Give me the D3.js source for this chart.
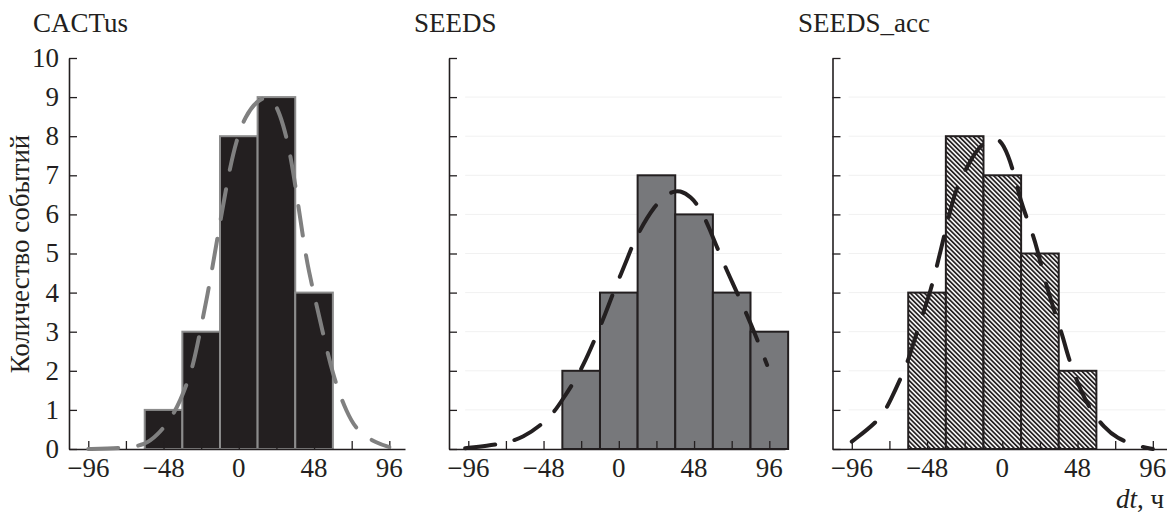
<!DOCTYPE html>
<html>
<head>
<meta charset="utf-8">
<script src="https://cdn.jsdelivr.net/npm/d3@7"></script>
<style>
  body { margin: 0; background: #fff; }
</style>
</head>
<body>
<div id="chart"></div>
<script>
// histogram bins (left edge of each 24 h bin) and counts
const binWidth = 24;
const cactusBins = [-60, -36, -12, 12, 36];
const cactusCounts = [1, 3, 8, 9, 4];
const seedsBins = [-36, -12, 12, 36, 60, 84];
const seedsCounts = [2, 4, 7, 6, 4, 3];
const accBins = [-60, -36, -12, 12, 36];
const accCounts = [4, 8, 7, 5, 2];

// fitted curves as [dt, count]
const cactusCurve = [[-96, 0], [-84, 0.01], [-72, 0.03], [-60, 0.1], [-52, 0.35], [-44, 0.74], [-37.5, 1.2],
  [-30, 2.0], [-26.7, 2.6], [-19.6, 4.0], [-14, 5.3], [-6.8, 7.0], [-1.2, 7.95], [4, 8.5], [11.6, 8.92],
  [19.9, 9.05], [26.2, 8.62], [32.6, 7.65], [37.7, 6.3], [41, 5.4], [44.2, 4.6], [51.8, 3.3], [60.1, 1.84],
  [68.9, 0.92], [76, 0.43], [88, 0.15], [96, 0.05]];
const seedsCurve = [[-98, 0.02], [-84, 0.08], [-71.5, 0.16], [-60.9, 0.3], [-50, 0.6], [-41.7, 0.91], [-35.3, 1.3],
  [-28, 1.75], [-22.6, 2.15], [-17.2, 2.62], [-7.6, 3.55], [-3.4, 4.02], [6.2, 4.94], [10.4, 5.39], [23.2, 6.27],
  [32.8, 6.58], [39.2, 6.62], [46, 6.45], [51.9, 6.16], [57.3, 5.69], [66.8, 4.75], [72.2, 4.28], [81.8, 3.43],
  [87.1, 2.92], [94.6, 2.15]];
const accCurve = [[-96, 0.19], [-78, 0.74], [-71.6, 1.21], [-60.9, 2.15], [-57.7, 2.58], [-50.3, 3.51], [-46.1, 3.98],
  [-39.7, 5.0], [-31.2, 6.45], [-26.9, 6.88], [-20, 7.4], [-14.2, 7.77], [-4.6, 7.99], [0.7, 7.82], [7.1, 7.14],
  [11.3, 6.37], [17.7, 5.69], [22, 5.17], [27.3, 4.28], [34.7, 3.34], [39, 2.83], [42.1, 2.32], [50.7, 1.42],
  [57.1, 0.95], [65, 0.55], [73, 0.27], [85.8, 0.08], [96, 0]];

const panelTitles = ['CACTus', 'SEEDS', 'SEEDS_acc'];
const xTicks = [-96, -72, -48, -24, 0, 24, 48, 72, 96];
const xTickLabels = [-96, -48, 0, 48, 96];
const yTicks = [0, 1, 2, 3, 4, 5, 6, 7, 8, 9, 10];
const yAxisTitle = 'Количество событий';
const xAxisTitle = ['dt', ', ч'];

const width = 1167, height = 514;
const ink = '#231f20';
const serif = 'Liberation Serif';
const fontSize = 27;

const svg = d3.select('#chart').append('svg')
  .attr('width', width)
  .attr('height', height);

// dense diagonal hatch used for the SEEDS_acc bars
const hatchStep = 3.3;
const defs = svg.append('defs');
const hatch = defs.append('pattern')
  .attr('id', 'hatch')
  .attr('patternUnits', 'userSpaceOnUse')
  .attr('width', hatchStep)
  .attr('height', hatchStep)
  .attr('patternTransform', 'rotate(-45)');
hatch.append('rect').attr('width', hatchStep).attr('height', hatchStep).attr('fill', '#fff');
hatch.append('line')
  .attr('x1', 0.9).attr('y1', 0).attr('x2', 0.9).attr('y2', hatchStep)
  .attr('stroke', ink).attr('stroke-width', 1.75);

const panels = [
  { left: 69, bins: cactusBins, counts: cactusCounts, curve: cactusCurve,
    fill: ink, stroke: '#8c8c8c', curveColor: '#808080', labels: true, grid: false },
  { left: 449, bins: seedsBins, counts: seedsCounts, curve: seedsCurve,
    fill: '#77787b', stroke: ink, curveColor: ink, labels: false, grid: true },
  { left: 832.5, bins: accBins, counts: accCounts, curve: accCurve,
    fill: 'url(#hatch)', stroke: ink, curveColor: ink, labels: false, grid: true }
];

const plotW = 336;
const y = d3.scaleLinear().domain([0, 10]).range([449, 58]);

function addText(parent) {
  return parent.append('text')
    .attr('font-family', serif)
    .attr('font-size', fontSize)
    .attr('fill', ink);
}

panels.forEach((p, i) => {
  const x = d3.scaleLinear().domain([-108.3, 106]).range([p.left, p.left + plotW]);
  const g = svg.append('g');

  // faint horizontal grid (only the SEEDS panels have it)
  if (p.grid) {
    g.append('g')
      .selectAll('line')
      .data(yTicks.filter(d => d > 0 && d < 10))
      .enter().append('line')
      .attr('x1', x(-98)).attr('x2', x(104))
      .attr('y1', d => y(d)).attr('y2', d => y(d))
      .attr('stroke', '#f1f1f1').attr('stroke-width', 1);
  }

  // bars
  g.append('g')
    .selectAll('rect')
    .data(p.bins.map((b, j) => ({ start: b, count: p.counts[j] })))
    .enter().append('rect')
    .attr('x', d => x(d.start))
    .attr('y', d => y(d.count))
    .attr('width', d => x(d.start + binWidth) - x(d.start))
    .attr('height', d => y(0) - y(d.count))
    .attr('fill', p.fill)
    .attr('stroke', p.stroke)
    .attr('stroke-width', 2);

  // axes: ticks point inward
  const xAxis = g.append('g')
    .attr('transform', `translate(0,${y(0)})`)
    .call(d3.axisTop(x).tickValues(xTicks).tickSize(8).tickSizeOuter(0).tickFormat(''));
  xAxis.select('.domain').attr('stroke', ink).attr('stroke-width', 1.6);
  xAxis.selectAll('.tick line').attr('stroke', ink).attr('stroke-width', 1.3);

  const xLabels = g.append('g');
  xTickLabels.forEach(d => {
    addText(xLabels)
      .attr('x', x(d))
      .attr('y', 477)
      .attr('text-anchor', 'middle')
      .text(d < 0 ? '\u2212' + Math.abs(d) : d);
  });

  const yAxis = g.append('g')
    .attr('transform', `translate(${p.left},0)`)
    .call(d3.axisRight(y).tickValues(yTicks).tickSize(8).tickSizeOuter(0).tickFormat(''));
  yAxis.select('.domain').attr('stroke', ink).attr('stroke-width', 1.6);
  yAxis.selectAll('.tick line').attr('stroke', ink).attr('stroke-width', 1.3);

  if (p.labels) {
    const yLabels = g.append('g');
    yTicks.forEach(d => {
      addText(yLabels)
        .attr('x', p.left - 10)
        .attr('y', y(d))
        .attr('dy', '0.33em')
        .attr('text-anchor', 'end')
        .text(d);
    });
  }

  // dashed fitted curve
  const line = d3.line()
    .x(d => x(d[0]))
    .y(d => y(d[1]))
    .curve(d3.curveBasis);
  g.append('path')
    .datum(p.curve)
    .attr('d', line)
    .attr('fill', 'none')
    .attr('stroke', p.curveColor)
    .attr('stroke-width', 4)
    .attr('stroke-linecap', 'round')
    .attr('stroke-dasharray', '30 20');

  // panel title
  addText(svg)
    .attr('x', [33, 414, 798][i])
    .attr('y', 32)
    .text(panelTitles[i]);
});

// axis titles
addText(svg)
  .attr('transform', 'translate(29,254) rotate(-90)')
  .attr('text-anchor', 'middle')
  .text(yAxisTitle);

const xt = addText(svg)
  .attr('x', 1164)
  .attr('y', 508)
  .attr('text-anchor', 'end');
xt.append('tspan').attr('font-style', 'italic').text(xAxisTitle[0]);
xt.append('tspan').text(xAxisTitle[1]);
</script>
</body>
</html>
